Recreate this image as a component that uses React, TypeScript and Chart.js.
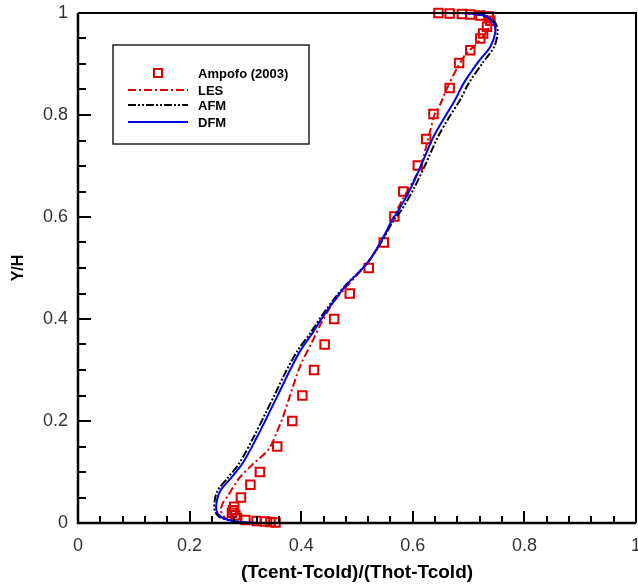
import React, { useEffect, useRef } from "react";
import { Chart, registerables } from "chart.js";

Chart.register(...registerables);

// Ampofo (2003) experimental data
const ampX = [0.646, 0.666, 0.688, 0.703, 0.721, 0.736, 0.739, 0.733, 0.726, 0.721, 0.703, 0.683, 0.666, 0.637, 0.624, 0.609, 0.583, 0.567, 0.548, 0.521, 0.487, 0.459, 0.442, 0.423, 0.402, 0.384, 0.357, 0.326, 0.309, 0.292, 0.28, 0.278, 0.276, 0.282, 0.285, 0.3, 0.32, 0.335, 0.345, 0.354];
const ampY = [1.0, 0.999, 0.998, 0.997, 0.995, 0.993, 0.985, 0.973, 0.96, 0.95, 0.927, 0.902, 0.853, 0.802, 0.753, 0.701, 0.65, 0.601, 0.55, 0.5, 0.45, 0.4, 0.35, 0.3, 0.25, 0.2, 0.15, 0.1, 0.075, 0.05, 0.032, 0.025, 0.02, 0.015, 0.01, 0.006, 0.004, 0.003, 0.002, 0.001];

// LES
const lesX = [0.3, 0.275, 0.262, 0.256, 0.26, 0.268, 0.289, 0.312, 0.342, 0.357, 0.368, 0.38, 0.399, 0.42, 0.435, 0.456, 0.48, 0.518, 0.543, 0.563, 0.581, 0.602, 0.614, 0.622, 0.63, 0.639, 0.65, 0.661, 0.679, 0.694, 0.712, 0.73, 0.739, 0.73, 0.71, 0.69];
const lesY = [0.0, 0.004, 0.012, 0.025, 0.04, 0.052, 0.088, 0.114, 0.145, 0.18, 0.21, 0.25, 0.31, 0.356, 0.39, 0.43, 0.462, 0.509, 0.55, 0.594, 0.633, 0.673, 0.699, 0.73, 0.764, 0.8, 0.823, 0.852, 0.891, 0.918, 0.937, 0.96, 0.98, 0.993, 0.999, 1.0];

// AFM
const afmX = [0.32, 0.29, 0.268, 0.252, 0.245, 0.245, 0.251, 0.268, 0.289, 0.315, 0.336, 0.354, 0.374, 0.394, 0.416, 0.438, 0.463, 0.481, 0.518, 0.543, 0.566, 0.58, 0.602, 0.621, 0.645, 0.666, 0.685, 0.7, 0.727, 0.746, 0.752, 0.748, 0.732, 0.7, 0.68];
const afmY = [0.0, 0.002, 0.006, 0.013, 0.025, 0.045, 0.065, 0.088, 0.117, 0.169, 0.215, 0.255, 0.3, 0.339, 0.372, 0.408, 0.445, 0.468, 0.509, 0.55, 0.594, 0.614, 0.656, 0.699, 0.757, 0.797, 0.83, 0.862, 0.905, 0.934, 0.963, 0.98, 0.994, 0.999, 1.0];

// DFM
const dfmX = [0.32, 0.29, 0.27, 0.255, 0.248, 0.249, 0.256, 0.274, 0.295, 0.321, 0.342, 0.36, 0.38, 0.399, 0.42, 0.441, 0.465, 0.482, 0.518, 0.542, 0.563, 0.575, 0.596, 0.614, 0.637, 0.658, 0.676, 0.691, 0.718, 0.739, 0.748, 0.745, 0.73, 0.7, 0.68];
const dfmY = [0.0, 0.002, 0.006, 0.013, 0.025, 0.045, 0.065, 0.088, 0.117, 0.169, 0.215, 0.255, 0.3, 0.339, 0.372, 0.408, 0.445, 0.468, 0.509, 0.55, 0.594, 0.614, 0.656, 0.699, 0.757, 0.797, 0.83, 0.862, 0.905, 0.934, 0.963, 0.98, 0.994, 0.999, 1.0];

const legendLabels = ["Ampofo (2003)", "LES", "AFM", "DFM"];
const xTitle = "(Tcent-Tcold)/(Thot-Tcold)";
const yTitle = "Y/H";

const RED = "#dd0000";
const BLUE = "#0000ee";
const BLACK = "#000000";
const LES_DASH = [8, 3, 2, 3];
const AFM_DASH = [8, 2, 2, 2, 2, 2];
const FONT = "'Liberation Sans', Arial, sans-serif";

const zip = (xs: number[], ys: number[]) => xs.map((x, i) => ({ x, y: ys[i] }));
const fmt = (v: any) => String(Number(Number(v).toFixed(2)));

const framePlugin = {
  id: "frameTicks",
  afterDraw(chart: any) {
    const { ctx, chartArea: a, scales } = chart;
    const xs = scales.x;
    const ys = scales.y;
    ctx.save();
    ctx.strokeStyle = "#000";
    ctx.setLineDash([]);
    ctx.lineWidth = 2;
    ctx.beginPath();
    for (let i = 0; i <= 25; i++) {
      const px = Math.round(xs.getPixelForValue(i * 0.04));
      const len = i % 5 === 0 ? 12 : 7;
      ctx.moveTo(px, a.bottom);
      ctx.lineTo(px, a.bottom - len);
    }
    for (let i = 0; i <= 20; i++) {
      const py = Math.round(ys.getPixelForValue(i * 0.05));
      const len = i % 4 === 0 ? 13 : 8;
      ctx.moveTo(a.left, py);
      ctx.lineTo(a.left + len, py);
    }
    ctx.stroke();
    ctx.lineWidth = 2;
    ctx.beginPath();
    ctx.moveTo(a.left, a.top);
    ctx.lineTo(a.right, a.top);
    ctx.lineTo(a.right, a.bottom);
    ctx.stroke();
    ctx.lineWidth = 2.5;
    ctx.beginPath();
    ctx.moveTo(a.left, a.top);
    ctx.lineTo(a.left, a.bottom);
    ctx.lineTo(a.right, a.bottom);
    ctx.stroke();

    // legend
    const bx = 113, by = 45, bw = 196, bh = 99;
    ctx.fillStyle = "#fff";
    ctx.fillRect(bx, by, bw, bh);
    ctx.lineWidth = 1.5;
    ctx.strokeStyle = "#222";
    ctx.strokeRect(bx, by, bw, bh);
    const rows = [73, 90, 105, 122];
    ctx.font = "bold 13px " + FONT;
    ctx.textBaseline = "middle";
    ctx.textAlign = "left";
    ctx.fillStyle = "#000";
    legendLabels.forEach((t, i) => ctx.fillText(t, 198, rows[i] + 1));
    ctx.strokeStyle = RED;
    ctx.lineWidth = 2;
    ctx.strokeRect(154, rows[0] - 4, 8, 8);
    const lines = [
      { c: RED, d: LES_DASH },
      { c: BLACK, d: AFM_DASH },
      { c: BLUE, d: [] as number[] },
    ];
    lines.forEach((l, i) => {
      ctx.strokeStyle = l.c;
      ctx.setLineDash(l.d);
      ctx.lineWidth = 2;
      ctx.beginPath();
      ctx.moveTo(128, rows[i + 1]);
      ctx.lineTo(188, rows[i + 1]);
      ctx.stroke();
    });
    ctx.restore();
  },
};

const zeroPad = (s: any) => {
  s.paddingLeft = 0;
  s.paddingRight = 0;
  s.paddingTop = 0;
  s.paddingBottom = 0;
};

export default function App() {
  const ref = useRef<HTMLCanvasElement | null>(null);
  useEffect(() => {
    if (!ref.current) return;
    const chart = new Chart(ref.current, {
      type: "scatter",
      data: {
        datasets: [
          {
            label: legendLabels[0],
            data: zip(ampX, ampY),
            showLine: false,
            pointStyle: "rect",
            pointRadius: 6,
            pointBorderWidth: 2,
            pointBorderColor: RED,
            pointBackgroundColor: "rgba(0,0,0,0)",
            clip: false,
            order: 4,
          },
          {
            label: legendLabels[1],
            data: zip(lesX, lesY),
            showLine: true,
            borderColor: RED,
            borderWidth: 2,
            borderDash: LES_DASH,
            pointRadius: 0,
            tension: 0.3,
            clip: 4,
            order: 3,
          },
          {
            label: legendLabels[2],
            data: zip(afmX, afmY),
            showLine: true,
            borderColor: BLACK,
            borderWidth: 2,
            borderDash: AFM_DASH,
            pointRadius: 0,
            tension: 0.3,
            clip: 4,
            order: 2,
          },
          {
            label: legendLabels[3],
            data: zip(dfmX, dfmY),
            showLine: true,
            borderColor: BLUE,
            borderWidth: 2,
            pointRadius: 0,
            tension: 0.3,
            clip: 4,
            order: 1,
          },
        ],
      },
      options: {
        animation: false,
        responsive: false,
        maintainAspectRatio: false,
        layout: { autoPadding: false, padding: { top: 13, right: 2, left: 0, bottom: 0 } },
        plugins: { legend: { display: false }, tooltip: { enabled: false } },
        scales: {
          x: {
            type: "linear",
            min: 0,
            max: 1,
            ticks: {
              stepSize: 0.2,
              padding: 12,
              color: "#333",
              font: { family: FONT, size: 18 },
              callback: fmt,
            },
            grid: { display: false, drawTicks: false },
            border: { display: false },
            title: {
              display: true,
              text: xTitle,
              color: "#000",
              font: { family: FONT, size: 19, weight: "bold" },
              padding: { top: 0, bottom: 3 },
            },
            afterFit: (s: any) => {
              s.height = 64;
              zeroPad(s);
            },
          },
          y: {
            type: "linear",
            min: 0,
            max: 1,
            ticks: {
              stepSize: 0.2,
              padding: 10,
              color: "#333",
              font: { family: FONT, size: 18 },
              callback: fmt,
            },
            grid: { display: false, drawTicks: false },
            border: { display: false },
            title: {
              display: true,
              text: yTitle,
              color: "#000",
              font: { family: FONT, size: 16, weight: "bold" },
              padding: { top: 9, bottom: 0 },
            },
            afterFit: (s: any) => {
              s.width = 78;
              zeroPad(s);
            },
          },
        },
      },
      plugins: [framePlugin],
    });
    return () => chart.destroy();
  }, []);
  return (
    <div style={{ position: "absolute", left: 0, top: 0, width: 638, height: 587, background: "#fff" }}>
      <canvas ref={ref} width={638} height={587} style={{ display: "block", width: 638, height: 587 }} />
    </div>
  );
}
